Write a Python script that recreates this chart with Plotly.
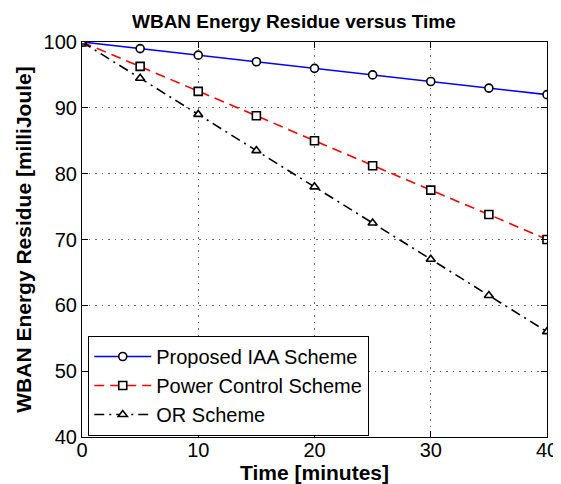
import plotly.graph_objects as go

time_min = [0, 5, 10, 15, 20, 25, 30, 35, 40]
proposed_iaa = [100, 99, 98, 97, 96, 95, 94, 93, 92]
power_control = [100, 96.3, 92.5, 88.8, 85, 81.2, 77.5, 73.8, 70]
or_scheme = [100, 94.5, 89, 83.5, 78, 72.5, 67, 61.5, 56]

font = "Liberation Sans, Arial, sans-serif"
fig = go.Figure()
marker_common = dict(color="white", size=8, line=dict(color="black", width=1.6))
fig.add_trace(go.Scatter(x=time_min, y=proposed_iaa, name="Proposed IAA Scheme",
                         mode="lines+markers", line=dict(color="blue", width=1.6),
                         marker=dict(symbol="circle", **marker_common)))
fig.add_trace(go.Scatter(x=time_min, y=power_control, name="Power Control Scheme",
                         mode="lines+markers", line=dict(color="red", width=1.6, dash="10px,6px"),
                         marker=dict(symbol="square", **marker_common)))
fig.add_trace(go.Scatter(x=time_min, y=or_scheme, name="OR Scheme",
                         mode="lines+markers", line=dict(color="black", width=1.6, dash="10px,5px,2px,5px"),
                         marker=dict(symbol="triangle-up", **marker_common)))

axis_common = dict(showline=True, linecolor="black", linewidth=1.2, mirror="ticks",
                   ticks="inside", ticklen=6, tickcolor="black", automargin=False,
                   showgrid=True, gridcolor="rgba(0,0,0,0.6)", griddash="1.5px,5px", gridwidth=1.2,
                   zeroline=False, tickfont=dict(family=font, size=20, color="black"))
fig.update_xaxes(range=[0, 40], dtick=10, ticklabelstandoff=-5,
                 title=dict(text="<b>Time [minutes]</b>", font=dict(family=font, size=21, color="black"), standoff=0),
                 **axis_common)
fig.update_yaxes(range=[40, 100], dtick=10,
                 title=dict(text="<b>WBAN Energy Residue [milliJoule]</b>", font=dict(family=font, size=21, color="black"), standoff=6),
                 **axis_common)
fig.update_layout(
    width=553, height=476,
    margin=dict(l=74, r=14, t=34, b=47),
    paper_bgcolor="white", plot_bgcolor="white",
    title=dict(text="<b>WBAN Energy Residue versus Time</b>", x=0.517, xanchor="center",
               y=0.971, yanchor="middle", font=dict(family=font, size=19, color="black")),
    legend=dict(x=0.013, y=0.003, xanchor="left", yanchor="bottom",
                bgcolor="white", bordercolor="black", borderwidth=1.2,
                font=dict(family=font, size=20, color="black"),
                tracegroupgap=0, itemwidth=57),
    showlegend=True,
)
fig.write_html("out.html")
